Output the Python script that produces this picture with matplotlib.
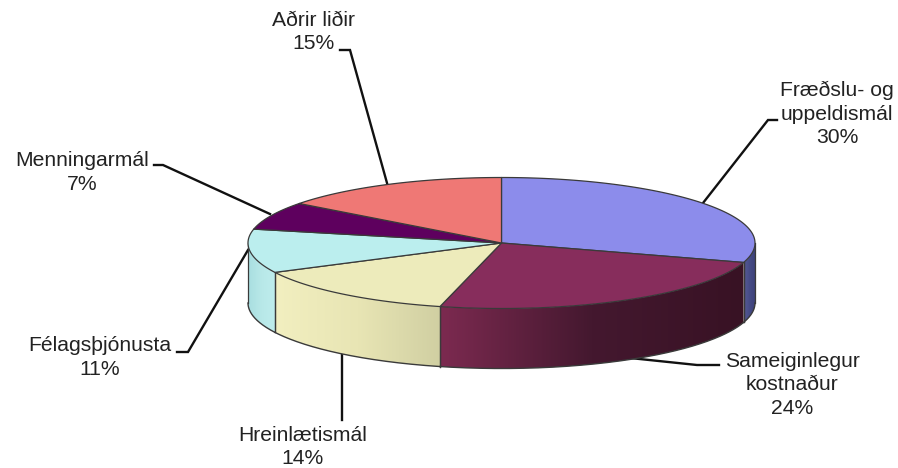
import numpy as np
import matplotlib
matplotlib.use("Agg")
import matplotlib.pyplot as plt
from matplotlib.colors import to_rgb
from matplotlib.patches import Polygon

labels = ["Fræðslu- og\nuppeldismál", "Sameiginlegur\nkostnaður", "Hreinlætismál",
          "Félagsþjónusta", "Menningarmál", "Aðrir liðir"]
percent_labels = [30, 24, 14, 11, 7, 15]
# slice sizes (the rounded labels add to 101)
shares = [29.8, 24.1, 13.7, 10.8, 6.9, 14.7]
top_colors = ["#8C8CEB", "#872D5C", "#EDEBBB", "#BBEEEE", "#5E005E", "#EF7875"]
wall_left = ["#565A96", "#7C2A50", "#F2EFC0", "#A8DEE0", "#5E005E", "#EF7875"]
wall_mid = ["#454A85", "#44182F", "#E8E5B4", "#B8E8E8", "#5E005E", "#EF7875"]
wall_right = ["#3C4078", "#381224", "#D0CFA2", "#BEEDED", "#5E005E", "#EF7875"]

CX, CY, RX, RY, DEPTH = 501.5, 243, 253.5, 65.5, 60
OUTLINE = "#3A3A3A"
TXT = "#222222"

plt.rcParams["font.family"] = ["Liberation Sans", "DejaVu Sans"]
fig = plt.figure(figsize=(8.98, 4.68), dpi=100)
ax = fig.add_axes([0, 0, 1, 1])
ax.set_xlim(0, 898)
ax.set_ylim(468, 0)
ax.axis("off")


def pt(t, dy=0.0):
    t = np.asarray(t)
    return CX + RX * np.sin(t), CY - RY * np.cos(t) + dy


edges = np.radians(np.concatenate([[0], np.cumsum(shares)]) / np.sum(shares) * 360)

# side walls (only the front half is visible): a horizontal gradient clipped to the wall
for i, (a, b) in enumerate(zip(edges[:-1], edges[1:])):
    lo, hi = max(a, np.pi / 2), min(b, 3 * np.pi / 2)
    if hi <= lo:
        continue
    ts = np.linspace(lo, hi, 160)
    xs, ys = pt(ts)
    bx, by = pt(ts, DEPTH)
    xmin, xmax = xs.min(), xs.max()
    f = np.linspace(0, 1, 256)
    stops = np.array([to_rgb(wall_left[i]), to_rgb(wall_mid[i]), to_rgb(wall_right[i])])
    grad = np.stack([np.interp(f, [0, 0.5, 1], stops[:, c]) for c in range(3)], axis=-1)[None, :, :]
    wall = Polygon(np.c_[np.r_[xs, bx[::-1]], np.r_[ys, by[::-1]]], closed=True,
                   transform=ax.transData, facecolor="none", edgecolor="none")
    ax.add_patch(wall)
    im = ax.imshow(grad, extent=(xmin, xmax, by.max(), ys.min()), aspect="auto",
                   interpolation="bilinear", zorder=2)
    im.set_clip_path(wall)
    ax.plot(bx, by, color=OUTLINE, lw=1.0, zorder=3)
    for t in (lo, hi):
        x0, y0 = pt(t)
        ax.plot([x0, x0], [y0, y0 + DEPTH], color=OUTLINE, lw=0.9, zorder=3)
ax.set_xlim(0, 898)
ax.set_ylim(468, 0)

# top faces
for i, (a, b) in enumerate(zip(edges[:-1], edges[1:])):
    ts = np.linspace(a, b, 120)
    xs, ys = pt(ts)
    ax.fill(np.r_[CX, xs], np.r_[CY, ys], facecolor=top_colors[i], edgecolor=OUTLINE,
            linewidth=0.9, joinstyle="round", zorder=4)

# labels with percentages
label_pos = [(837, 114), (792, 385), (302.5, 447), (100, 357.5), (82, 172.5), (314, 32)]
for name, v, (x, y) in zip(labels, percent_labels, label_pos):
    ax.text(x, y, f"{name}\n{v}%", ha="center", va="center", fontsize=15.2,
            color=TXT, linespacing=1.3, zorder=6)

# leader lines
leaders = [
    [(777, 120), (768, 120), (703, 203)],
    [(719, 365), (697, 365), (630, 358)],
    [(342, 420), (342, 353)],
    [(177, 352), (188, 352), (248, 250)],
    [(154, 165), (163, 165), (270, 214)],
    [(340, 50), (350, 50), (387, 183)],
]
for line in leaders:
    lx, ly = zip(*line)
    ax.plot(lx, ly, color="#111111", lw=1.7, zorder=1, solid_joinstyle="miter")

fig.savefig("out.png", dpi=100, facecolor="white")
